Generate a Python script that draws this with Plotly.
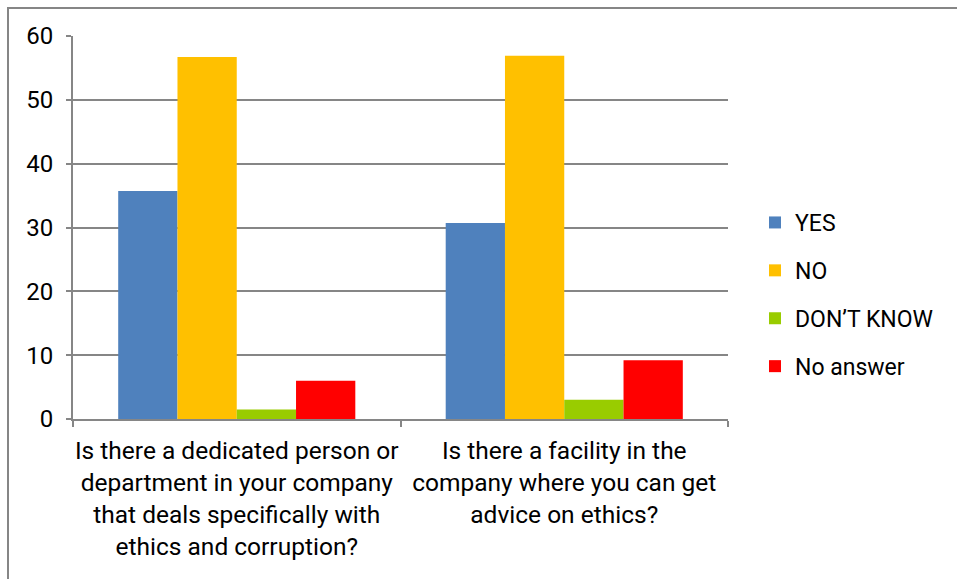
import plotly.graph_objects as go

# Survey questions (x categories)
categories = [
    "Is there a dedicated person or<br>department in your company<br>that deals specifically with<br>ethics and corruption?",
    "Is there a facility in the<br>company where you can get<br>advice on ethics?",
]

# Response shares per question
series_names = ["YES", "NO", "DON\u2019T KNOW", "No answer"]
yes_vals = [35.7, 30.7]
no_vals = [56.7, 56.9]
dont_know_vals = [1.5, 3.0]
no_answer_vals = [6.0, 9.2]
series_values = [yes_vals, no_vals, dont_know_vals, no_answer_vals]
series_colors = ["#4F81BD", "#FFC000", "#99CC00", "#FF0000"]

y_ticks = [0, 10, 20, 30, 40, 50, 60]

W, H = 957, 579
ML, MR, MT, MB = 73, 229, 36, 160
PW, PH = W - ML - MR, H - MT - MB

FONT = "Roboto, Arial, sans-serif"
GRID = "#868686"

fig = go.Figure()
for i, (name, vals, col) in enumerate(zip(series_names, series_values, series_colors)):
    fig.add_trace(go.Bar(
        x=categories, y=vals, name=name,
        marker=dict(color=col, line=dict(width=0)),
        legendgroup=f"g{i}",
    ))


def px_to_paper_x(px):
    return (px - ML) / PW


def px_to_paper_y(py):
    return (H - MB - py) / PH


# outer chart frame
fig.add_shape(
    type="rect", xref="paper", yref="paper",
    x0=px_to_paper_x(8), x1=px_to_paper_x(W + 5),
    y0=px_to_paper_y(H + 5), y1=px_to_paper_y(8),
    line=dict(color=GRID, width=2), fillcolor="rgba(0,0,0,0)",
    layer="below",
)

fig.update_layout(
    width=W, height=H,
    margin=dict(l=ML, r=MR, t=MT, b=MB, pad=0, autoexpand=False),
    paper_bgcolor="white", plot_bgcolor="white",
    barmode="group", bargap=0.276, bargroupgap=0,
    font=dict(family=FONT, size=24, color="#000000"),
    legend=dict(
        x=px_to_paper_x(755), y=px_to_paper_y(201), xanchor="left", yanchor="top",
        font=dict(family=FONT, size=23, color="#000000"),
        tracegroupgap=15, traceorder="grouped",
        bgcolor="rgba(0,0,0,0)", itemwidth=30,
    ),
    xaxis=dict(
        showline=True, linecolor=GRID, linewidth=2,
        ticks="outside", tickson="boundaries", ticklen=6, tickcolor=GRID, tickwidth=2,
        tickfont=dict(family=FONT, size=24.5, color="#000000"),
        tickangle=0, automargin=False,
        showgrid=False, ticklabelstandoff=9,
    ),
    yaxis=dict(
        range=[0, 60], tickvals=y_ticks,
        showline=True, linecolor=GRID, linewidth=2,
        ticks="outside", ticklen=5, tickcolor=GRID, tickwidth=2,
        showgrid=True, gridcolor=GRID, gridwidth=2,
        zeroline=False, automargin=False,
        tickfont=dict(family=FONT, size=24, color="#000000"),
        ticklabelstandoff=8,
    ),
)

fig.write_html("out.html")
